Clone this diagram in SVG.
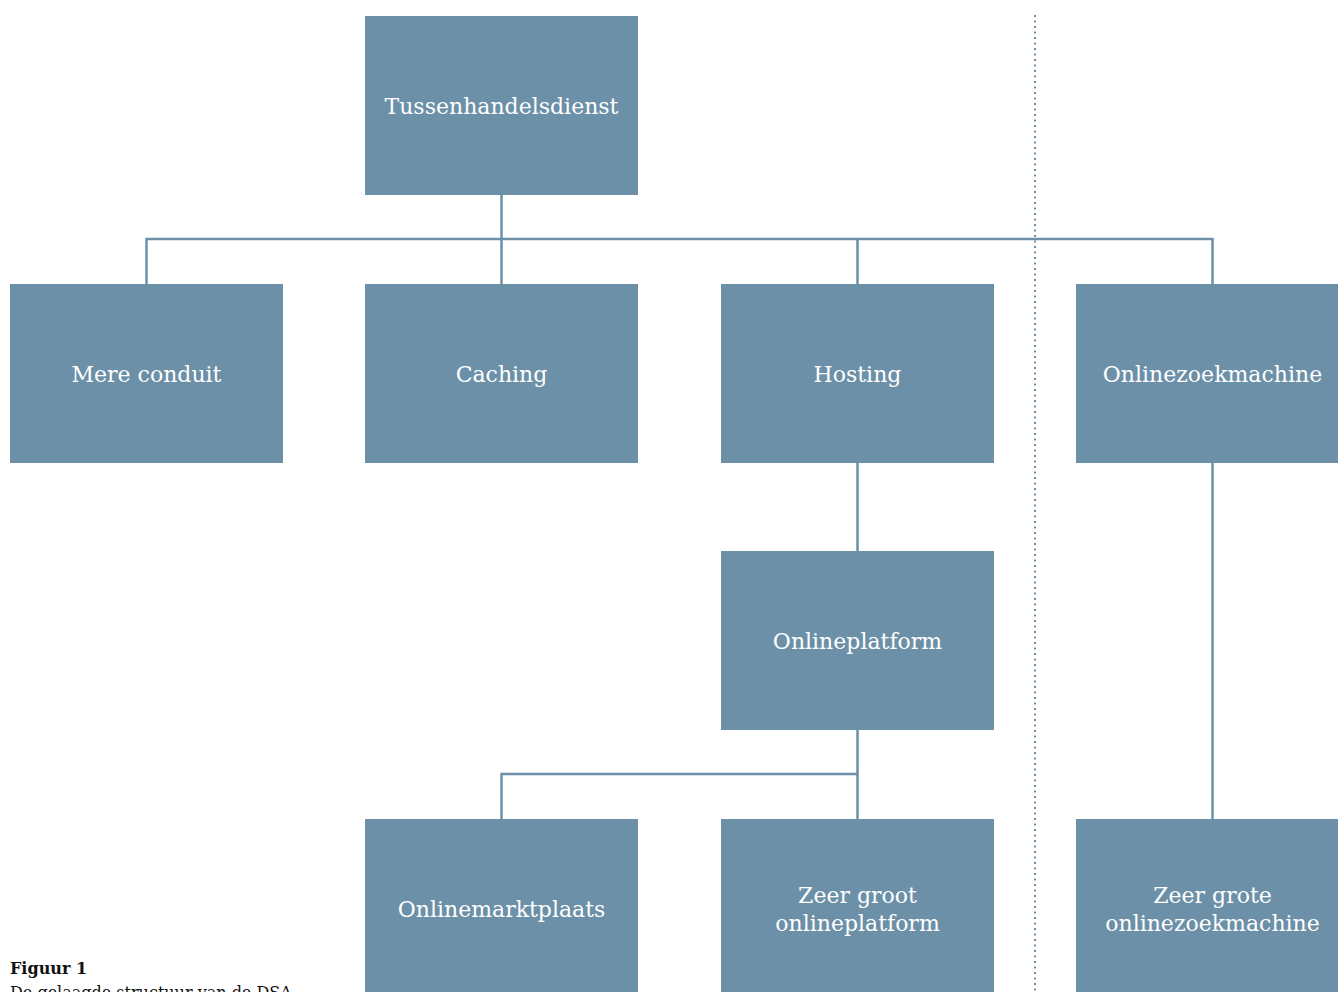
<svg xmlns="http://www.w3.org/2000/svg" width="1338" height="992" viewBox="0 0 1338 992">
<style>
.box{fill:#6b90a8}
.lbl{font-family:"DejaVu Serif","Liberation Serif",serif;font-size:22px;fill:#ffffff;text-anchor:middle}
.con{stroke:#6b90a8;stroke-width:2.5;fill:none}
.cap{font-family:"DejaVu Serif","Liberation Serif",serif;font-size:16px;fill:#111}
</style>
<rect width="1338" height="992" fill="#ffffff"/>
<line x1="1035" y1="15" x2="1035" y2="992" stroke="#6b90a8" stroke-width="2" stroke-dasharray="2,3.5"/>
<g id="connectors">
<path class="con" d="M501.5 195V239M146.5 284V239H1212.5V284M501.5 239V284M857.5 239V284"/>
<path class="con" d="M857.5 463V551"/>
<path class="con" d="M857.5 730V819M857.5 774H501.5V819"/>
<path class="con" d="M1212.5 463V819"/>
</g>
<g id="tussenhandelsdienst"><rect class="box" x="365" y="16" width="273" height="179"/><text class="lbl" x="501.5" y="114">Tussenhandelsdienst</text></g>
<g id="mereconduit"><rect class="box" x="10" y="284" width="273" height="179"/><text class="lbl" x="146.5" y="382">Mere conduit</text></g>
<g id="caching"><rect class="box" x="365" y="284" width="273" height="179"/><text class="lbl" x="501.5" y="382">Caching</text></g>
<g id="hosting"><rect class="box" x="721" y="284" width="273" height="179"/><text class="lbl" x="857.5" y="382">Hosting</text></g>
<g id="onlinezoekmachine"><rect class="box" x="1076" y="284" width="273" height="179"/><text class="lbl" x="1212.5" y="382">Onlinezoekmachine</text></g>
<g id="onlineplatform"><rect class="box" x="721" y="551" width="273" height="179"/><text class="lbl" x="857.5" y="649">Onlineplatform</text></g>
<g id="onlinemarktplaats"><rect class="box" x="365" y="819" width="273" height="179"/><text class="lbl" x="501.5" y="917">Onlinemarktplaats</text></g>
<g id="zeergrootonlineplatform"><rect class="box" x="721" y="819" width="273" height="179"/><text class="lbl" x="857.5" y="903">Zeer groot</text><text class="lbl" x="857.5" y="931">onlineplatform</text></g>
<g id="zeergroteonlinezoekmachine"><rect class="box" x="1076" y="819" width="273" height="179"/><text class="lbl" x="1212.5" y="903">Zeer grote</text><text class="lbl" x="1212.5" y="931">onlinezoekmachine</text></g>
<g id="caption"><text class="cap" x="10" y="974" font-weight="bold">Figuur 1</text><text class="cap" x="10" y="998">De gelaagde structuur van de DSA</text></g>
</svg>
